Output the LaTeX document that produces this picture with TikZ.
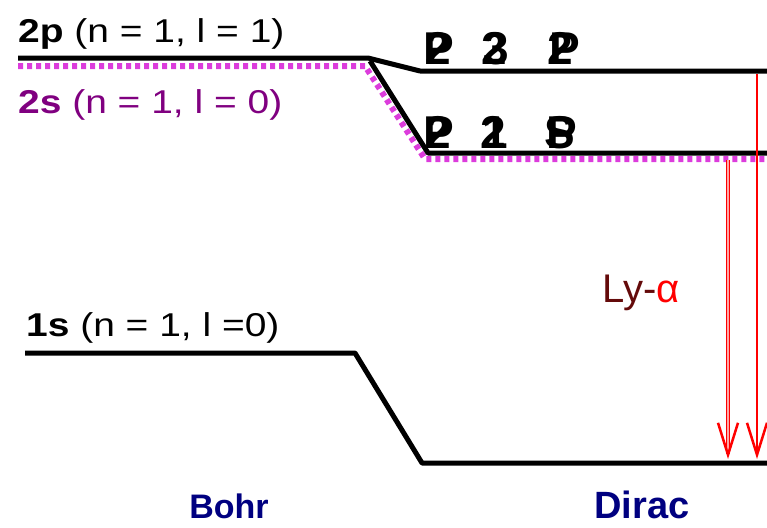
\documentclass[tikz,border=0pt]{standalone}
\usepackage{fontspec}
\setmainfont{Liberation Sans}
\newfontfamily\levelfont[FakeStretch=1.18]{Liberation Sans}
\usetikzlibrary{positioning,arrows.meta}
\definecolor{theoryblue}{RGB}{0,0,128}
\definecolor{spurple}{RGB}{128,0,128}
\definecolor{sdots}{RGB}{220,60,220}
\definecolor{lydark}{RGB}{100,10,10}
\newcommand{\overglyph}[2]{\rlap{\hspace{2pt}#1}#2}
\tikzset{
  level/.style={line width=5pt, black, line join=round},
  sdotted/.style={line width=6pt, sdots, dash pattern=on 5pt off 4pt},
  levellabel/.style={anchor=base west, inner sep=0pt, font=\levelfont\fontsize{33}{33}\selectfont},
  statelabel/.style={anchor=base, inner sep=0pt, font=\bfseries\fontsize{46}{46}\selectfont},
  theory/.style={anchor=base, inner sep=0pt, text=theoryblue, font=\bfseries\fontsize{34}{34}\selectfont},
  lyman/.style={->, red, line width=2pt, >={Straight Barb[length=32pt,width=20pt,line width=2.5pt]}},
}

\begin{document}
\begin{tikzpicture}[x=1pt,y=-1pt]
  \useasboundingbox (0,0) rectangle (767,527);

  % level corners (Bohr -> Dirac)
  \coordinate (b2p) at (18,58);  \coordinate (k2p) at (368,58);
  \coordinate (d2p) at (420,71); \coordinate (e2p) at (767,71);
  \coordinate (b2s) at (18,66);  \coordinate (k2s) at (365,66);
  \coordinate (d2s) at (425,159); \coordinate (e2s) at (767,159);
  \coordinate (k2sb) at (370,61); \coordinate (d2sb) at (428,153); \coordinate (e2sb) at (767,153);
  \coordinate (b1s) at (25,353); \coordinate (k1s) at (355,353);
  \coordinate (d1s) at (422,463); \coordinate (e1s) at (767,463);

  \draw[sdotted] (b2s) -- (k2s) -- (d2s) -- (e2s);
  \draw[level] (b2p) -- (k2p) -- (d2p) -- (e2p);
  \draw[level] (k2sb) -- (d2sb) -- (e2sb);
  \draw[level] (b1s) -- (k1s) -- (d1s) -- (e1s);

  \node[levellabel] (lab2p) at (18,42) {\textbf{2p} (n = 1, l = 1)};
  \node[levellabel, text=spurple] (lab2s) at (18,113) {\textbf{2s} (n = 1, l = 0)};
  \node[levellabel] (lab1s) at (26,336) {\textbf{1s} (n = 1, l =0)};

  % Dirac states
  \node[statelabel] (up1) at (439,64) {\overglyph{2}{P}};
  \node[statelabel] (up2) at (494,64) {\overglyph{3}{2}};
  \node[statelabel] (up3) at (560,64) {\overglyph{P}{2}};
  \node[statelabel] (lo1) at (439,148) {\overglyph{2}{P}};
  \node[statelabel] (lo2) at (493,148) {\overglyph{1}{2}};
  \node[statelabel] (lo3) at (560,148) {\overglyph{P}{S}};

  % Lyman alpha
  \coordinate (ly1top) at (728,160); \coordinate (ly1bot) at (728,459);
  \coordinate (ly2top) at (757,74);  \coordinate (ly2bot) at (757,459);
  \draw[lyman, line width=1.2pt, double=red!35, double distance=2.5pt] (ly1top) -- (ly1bot);
  \draw[lyman] (ly2top) -- (ly2bot);
  \node[anchor=base, inner sep=0pt, font=\fontsize{40}{40}\selectfont] (lya) at (641,302)
    {\textcolor{lydark}{Ly-}\textcolor{red}{α}};

  \node[theory] (bohr) at (229,518) {Bohr};
  \node[theory, font=\bfseries\fontsize{38}{38}\selectfont] (dirac) at (642,518) {Dirac};
\end{tikzpicture}
\end{document}
